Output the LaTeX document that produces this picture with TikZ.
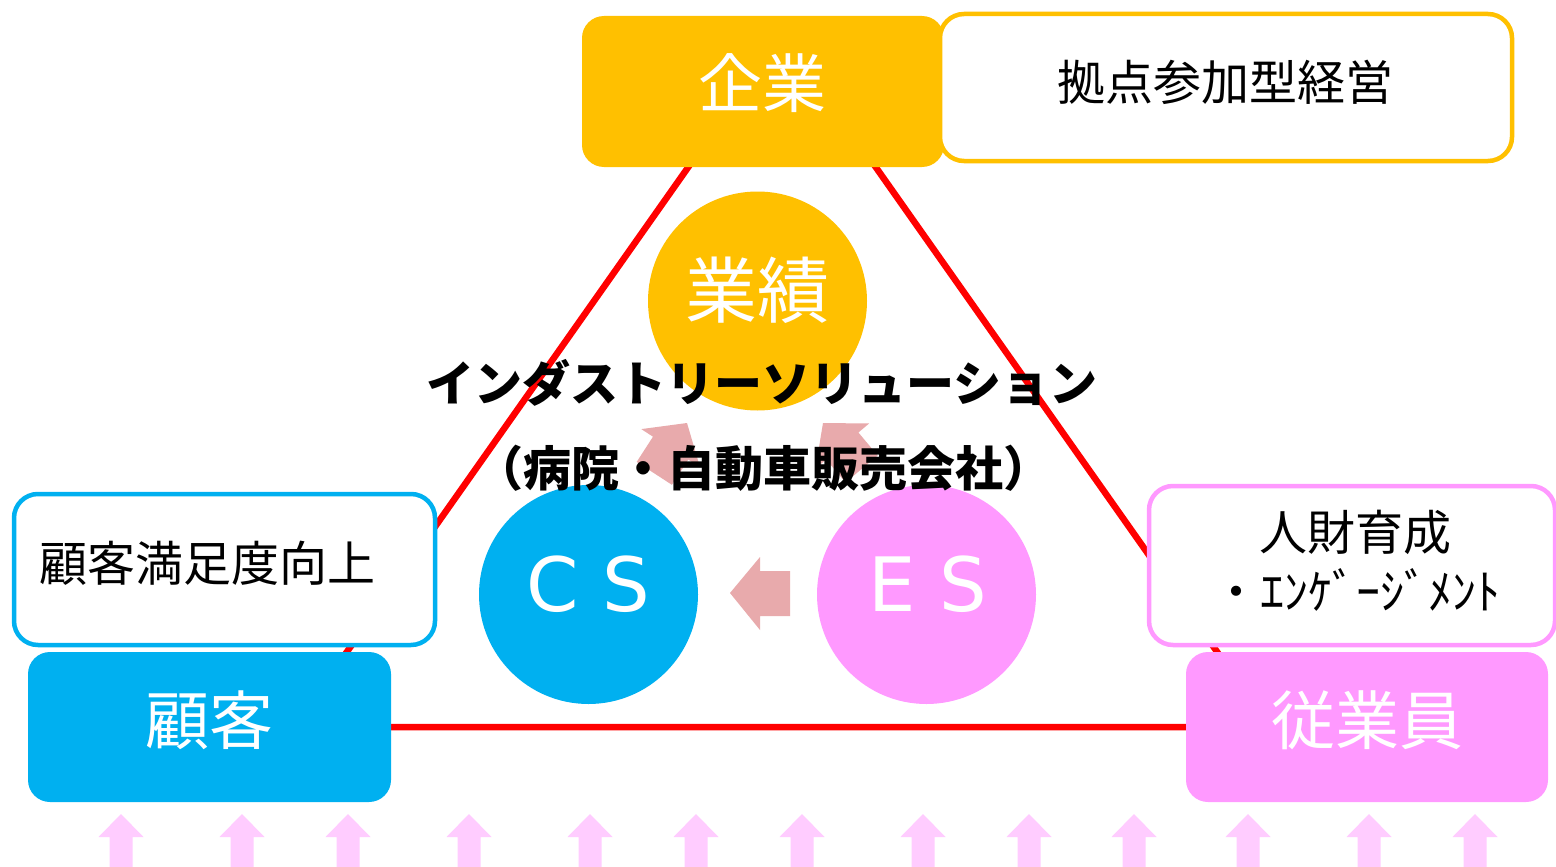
\documentclass[tikz,border=0pt]{standalone}
\usepackage{fontspec}
\newfontfamily\jp{Noto Sans CJK JP}
\newfontfamily\dv{DejaVu Sans}
\definecolor{gold}{HTML}{FFC000}
\definecolor{sky}{HTML}{00B0F0}
\definecolor{pinkf}{HTML}{FF99FF}
\definecolor{lpink}{HTML}{FFCCFF}
\definecolor{salmon}{HTML}{E8AAAC}
\definecolor{tred}{HTML}{FF0000}
\begin{document}
\begin{tikzpicture}[x=1pt,y=-1pt,
  fillbox/.style={rectangle, rounded corners=22pt, inner sep=0pt, draw=none},
  linebox/.style={rectangle, rounded corners=24pt, inner sep=0pt, fill=white, line width=4.5pt},
  disc/.style={circle, inner sep=0pt, minimum size=219pt},
  wtxt/.style={text=white, inner sep=0pt, font=\jp\fontsize{64}{64}\selectfont},
  btxt/.style={text=black, inner sep=0pt, font=\jp\fontsize{48}{48}\selectfont},
  ctxt/.style={text=white, inner sep=0pt, font=\dv\fontsize{75}{75}\selectfont},
  boldtxt/.style={text=black, inner sep=0pt, font=\jp\bfseries\fontsize{48}{48}\selectfont},
  triline/.style={draw=tred, line width=6.5pt, line join=round},
  blockarrow/.style={fill=salmon},
  uparrow/.style={fill=lpink}
]
\useasboundingbox (0,0) rectangle (1556,867);
\fill[white] (0,0) rectangle (1556,867);

% triangle
\coordinate (apex) at (782,34);
\coordinate (bl) at (294,727);
\coordinate (br) at (1270,727);
\draw[triline] (apex) -- (bl) -- (br) -- cycle;

% circles
\node[disc, fill=gold] (gyoseki) at (757.5,301) {};
\node[disc, fill=sky] (cs) at (588.5,594.5) {};
\node[disc, fill=pinkf] (es) at (926.5,594.5) {};

% salmon block arrows
\fill[blockarrow] (687,423) -- (700.0,467.2) -- (688.3,459.6) -- (671.9,484.8) -- (636.7,461.9) -- (653.0,436.7) -- (641.3,429.1) -- cycle;
\fill[blockarrow] (823,423) -- (869.1,423.5) -- (858.4,432.5) -- (877.7,455.5) -- (845.5,482.5) -- (826.2,459.5) -- (815.5,468.5) -- cycle;
\fill[blockarrow] (730,593) -- (760,557) -- (760,571) -- (790,571) -- (790,616) -- (760,616) -- (760,630) -- cycle;

% boxes
\node[fillbox, fill=gold, minimum width=362pt, minimum height=151pt] (kigyo) at (763,91.5) {};
\node[linebox, draw=gold, minimum width=572pt, minimum height=147pt] (kyoten) at (1226,87.5) {};
\node[linebox, draw=sky, minimum width=421pt, minimum height=151pt] (manzoku) at (224.5,569.5) {};
\node[linebox, draw=pinkf, minimum width=406pt, minimum height=159pt] (jinzai) at (1352,565.5) {};
\node[fillbox, fill=sky, minimum width=363pt, minimum height=150pt] (kokyaku) at (209.5,727) {};
\node[fillbox, fill=pinkf, minimum width=362pt, minimum height=150pt] (jugyoin) at (1367,727) {};

% texts
\node[wtxt] (tkigyo) at (762,83) {企業};
\node[btxt] (tkyoten) at (1225,82) {拠点参加型経営};
\node[wtxt, font=\jp\fontsize{72}{72}\selectfont] (tgyoseki) at (757,290) {業績};
\node[boldtxt] (tind) at (762,383) {インダストリーソリューション};
\node[boldtxt] (tbyoin) at (763,468) {（病院・自動車販売会社）};
\node[btxt] (tmanzoku) at (207,563) {顧客満足度向上};
\node[ctxt] (tcs) at (588,584) {C S};
\node[ctxt] (tes) at (928,584) {E S};
\node[btxt] (tjinzai1) at (1355,532) {人財育成};
\node[btxt] (tjinzai2) at (1356,590) {・ｴﾝｹﾞｰｼﾞﾒﾝﾄ};
\node[wtxt] (tkokyaku) at (209,720) {顧客};
\node[wtxt] (tjugyoin) at (1367,720) {従業員};

% bottom arrows
\foreach \x in {121,242,348,469,590,696,802,923,1029,1134,1248,1369,1475} {
  \fill[uparrow] (\x,814) -- (\x+22.5,837) -- (\x+11.5,837) -- (\x+11.5,868) -- (\x-11.5,868) -- (\x-11.5,837) -- (\x-22.5,837) -- cycle;
}
\end{tikzpicture}
\end{document}
